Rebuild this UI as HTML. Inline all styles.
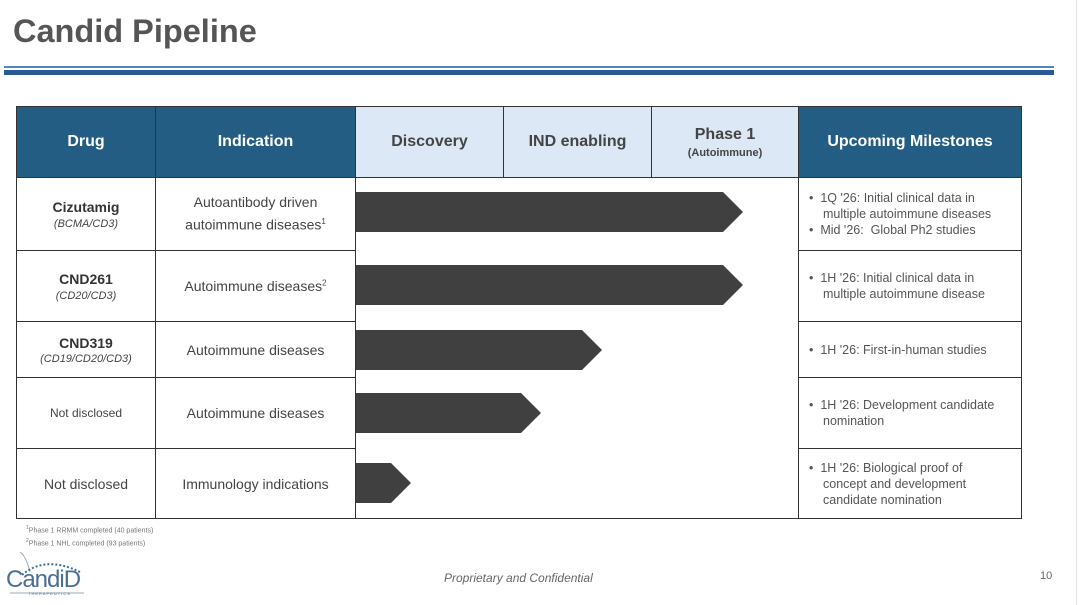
<!DOCTYPE html>
<html><head><meta charset="utf-8"><style>
body{margin:0;width:1080px;height:605px;background:#fff;position:relative;overflow:hidden;font-family:"Liberation Sans",sans-serif;}
.a{position:absolute;box-sizing:border-box;}
.c{position:absolute;box-sizing:border-box;display:flex;flex-direction:column;align-items:center;justify-content:center;text-align:center;border:1px solid #333;color:#444;}
.h{background:#245d84;color:#fff;font-weight:bold;font-size:16px;}
.l{background:#dce8f5;color:#444;font-weight:bold;font-size:16px;}
.d{font-size:14px;}
.m{position:absolute;box-sizing:border-box;border:1px solid #333;color:#555;font-size:12.5px;line-height:16px;padding:0 12px 0 10px;display:flex;flex-direction:column;justify-content:center;}
.m div{padding-left:14px;text-indent:-14px;}
</style></head><body>
<div class="a" style="left:13px;top:13px;font-size:32.5px;font-weight:bold;color:#555;">Candid Pipeline</div>
<div class="a" style="left:4px;top:66px;width:1050px;height:2px;background:#4f86c0;"></div>
<div class="a" style="left:4px;top:70px;width:1050px;height:5px;background:#2a5a96;"></div>

<div class="c h" style="left:16px;top:106px;width:140px;height:72px;">Drug</div>
<div class="c h" style="left:155px;top:106px;width:201px;height:72px;">Indication</div>
<div class="c l" style="left:355px;top:106px;width:149px;height:72px;">Discovery</div>
<div class="c l" style="left:503px;top:106px;width:149px;height:72px;">IND enabling</div>
<div class="c l" style="left:651px;top:106px;width:148px;height:72px;">Phase 1<span style="font-size:11px;font-weight:bold;margin-top:3px">(Autoimmune)</span></div>
<div class="c h" style="left:798px;top:106px;width:224px;height:72px;">Upcoming Milestones</div>

<div class="c d" style="left:16px;top:177px;width:140px;height:74px;"><b style="color:#333">Cizutamig</b><i style="font-size:11px;margin-top:3px">(BCMA/CD3)</i></div>
<div class="c d" style="left:155px;top:177px;width:201px;height:74px;line-height:19px">Autoantibody driven<span>autoimmune diseases<sup style="font-size:8px">1</sup></span></div>
<div class="c d" style="left:16px;top:250px;width:140px;height:72px;"><b style="color:#333">CND261</b><i style="font-size:11px;margin-top:3px">(CD20/CD3)</i></div>
<div class="c d" style="left:155px;top:250px;width:201px;height:72px;"><span>Autoimmune diseases<sup style="font-size:8px">2</sup></span></div>
<div class="c d" style="left:16px;top:321px;width:140px;height:57px;"><b style="color:#333">CND319</b><i style="font-size:11px;margin-top:2px">(CD19/CD20/CD3)</i></div>
<div class="c d" style="left:155px;top:321px;width:201px;height:57px;">Autoimmune diseases</div>
<div class="c" style="left:16px;top:377px;width:140px;height:72px;font-size:12px;">Not disclosed</div>
<div class="c d" style="left:155px;top:377px;width:201px;height:72px;">Autoimmune diseases</div>
<div class="c d" style="left:16px;top:448px;width:140px;height:71px;">Not disclosed</div>
<div class="c d" style="left:155px;top:448px;width:201px;height:71px;">Immunology indications</div>
<div class="a" style="left:355px;top:177px;width:444px;height:342px;border:1px solid #333;"></div>

<div class="m" style="left:798px;top:177px;width:224px;height:74px;"><div>•&nbsp;&nbsp;1Q '26: Initial clinical data in multiple autoimmune diseases</div><div>•&nbsp;&nbsp;Mid '26:&nbsp; Global Ph2 studies</div></div>
<div class="m" style="left:798px;top:250px;width:224px;height:72px;"><div>•&nbsp;&nbsp;1H '26: Initial clinical data in multiple autoimmune disease</div></div>
<div class="m" style="left:798px;top:321px;width:224px;height:57px;"><div>•&nbsp;&nbsp;1H '26: First-in-human studies</div></div>
<div class="m" style="left:798px;top:377px;width:224px;height:72px;"><div>•&nbsp;&nbsp;1H '26: Development candidate nomination</div></div>
<div class="m" style="left:798px;top:448px;width:224px;height:71px;"><div>•&nbsp;&nbsp;1H '26: Biological proof of concept and development candidate nomination</div></div>

<svg class="a" style="left:0;top:0" width="1080" height="605">
<g fill="#404040">
<polygon points="356,192 723,192 743,212 723,232 356,232"/>
<polygon points="356,265 723,265 743,285 723,305 356,305"/>
<polygon points="356,330 582,330 602,350 582,370 356,370"/>
<polygon points="356,393 521,393 541,413 521,433 356,433"/>
<polygon points="356,463 391,463 411,483 391,503 356,503"/>
</g>
<path d="M30 572 Q26 556 20 552" stroke="#9ab" fill="none"/>
<path d="M22 575 Q45 555 80 572" stroke="#3a6fa0" stroke-width="2" stroke-dasharray="2 2" fill="none"/>
<line x1="10" y1="593" x2="84" y2="593" stroke="#9ab"/>
</svg>
<div class="a" style="left:26px;top:523px;font-size:7px;color:#777;line-height:10px;"><sup style="font-size:5px">1</sup>Phase 1 RRMM completed (40 patients)<br><sup style="font-size:5px">2</sup>Phase 1 NHL completed (93 patients)</div>
<div class="a" style="left:6px;top:566px;font-size:24px;color:#4a6f95;letter-spacing:-1px;">CandiD</div>
<div class="a" style="left:28px;top:591px;font-size:4px;color:#4a6f95;letter-spacing:1px;">THERAPEUTICS</div>
<div class="a" style="left:444px;top:571px;font-size:12px;font-style:italic;color:#666;">Proprietary and Confidential</div>
<div class="a" style="left:1040px;top:570px;font-size:11px;color:#666;">10</div>
<div class="a" style="left:1076px;top:0;width:1px;height:605px;background:#e4e4e4;"></div>
</body></html>
